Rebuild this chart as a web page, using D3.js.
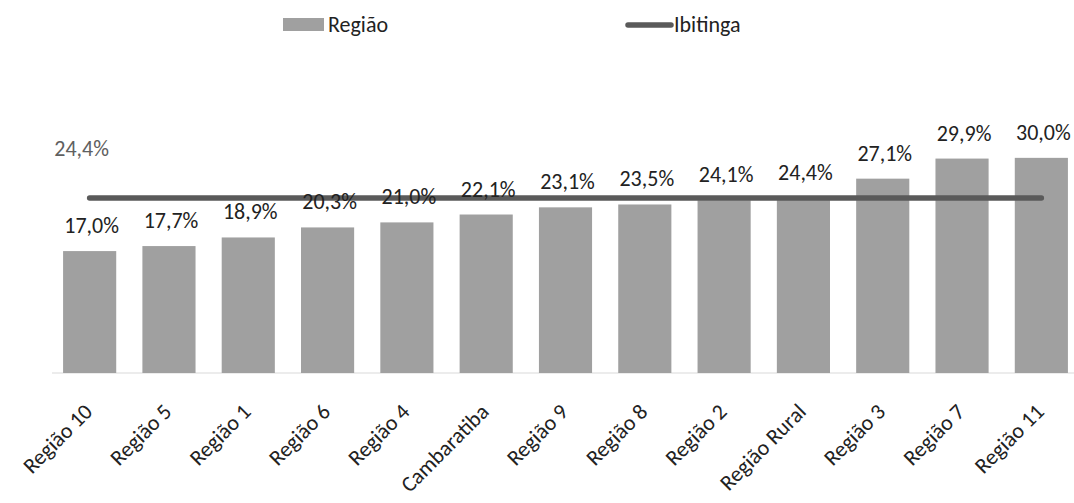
<!DOCTYPE html>
<html>
<head>
<meta charset="utf-8">
<script src="https://cdn.jsdelivr.net/npm/d3@7"></script>
<style>
  body { margin: 0; background: #fff; }
  svg { display: block; font-family: Carlito, Calibri, Lato, "Open Sans", sans-serif; }
</style>
</head>
<body>
<svg id="chart" width="1074" height="503"></svg>
<script>
// Categories, ordered by share
const categories = ["Região 10", "Região 5", "Região 1", "Região 6", "Região 4", "Cambaratiba",
  "Região 9", "Região 8", "Região 2", "Região Rural", "Região 3", "Região 7", "Região 11"];
// Share per region (%)
const regiaoValues = [17.0, 17.7, 18.9, 20.3, 21.0, 22.1, 23.1, 23.5, 24.1, 24.4, 27.1, 29.9, 30.0];
// Municipal reference value (%)
const ibitingaValues = categories.map(() => 24.4);
const seriesNames = ["Região", "Ibitinga"];

const fmt = v => v.toFixed(1).replace(".", ",") + "%";
const fontFamily = "Carlito, Calibri, Lato, 'Open Sans', sans-serif";
const fontSize = 22;

const svg = d3.select("#chart");
const x = d3.scaleBand().domain(categories).range([50, 1081]).paddingInner(0.33).paddingOuter(0.165);
const y = d3.scaleLinear().domain([0, 35]).range([373, 122]);

const barColor = "#a0a0a0";
const lineColor = "#5a5a5a";

// axis baseline
svg.append("line")
  .attr("x1", 52).attr("x2", 1074)
  .attr("y1", y(0)).attr("y2", y(0))
  .attr("stroke", "#d9d9d9").attr("stroke-width", 1);

// bars
svg.append("g").selectAll("rect").data(regiaoValues).join("rect")
  .attr("x", (d, i) => x(categories[i]))
  .attr("y", d => y(d))
  .attr("width", x.bandwidth())
  .attr("height", d => y(0) - y(d))
  .attr("fill", barColor);

// reference line
const line = d3.line()
  .x((d, i) => x(categories[i]) + x.bandwidth() / 2)
  .y(d => y(d));
svg.append("path").datum(ibitingaValues)
  .attr("d", line)
  .attr("fill", "none")
  .attr("stroke", lineColor)
  .attr("stroke-width", 5.5)
  .attr("stroke-linecap", "round");

// bar value labels
svg.append("g").selectAll("text").data(regiaoValues).join("text")
  .attr("x", (d, i) => x(categories[i]) + x.bandwidth() / 2 + 2)
  .attr("y", d => y(d) - 18)
  .attr("text-anchor", "middle")
  .attr("font-size", fontSize)
  .attr("fill", "#222")
  .text(d => fmt(d));

// reference line value label
svg.append("text")
  .attr("x", x(categories[0]) + x.bandwidth() / 2 - 8)
  .attr("y", y(ibitingaValues[0]) - 42)
  .attr("text-anchor", "middle")
  .attr("font-size", fontSize)
  .attr("fill", "#606060")
  .text(fmt(ibitingaValues[0]));

// category axis labels, rotated
const xAxis = d3.axisBottom(x).tickSize(0).tickPadding(0);
const gx = svg.append("g").attr("transform", `translate(0,${y(0)})`).call(xAxis);
gx.select(".domain").remove();
gx.selectAll(".tick text")
  .attr("font-family", fontFamily)
  .attr("font-size", fontSize)
  .attr("fill", "#222")
  .attr("text-anchor", "end")
  .attr("dy", 0)
  .attr("transform", "translate(4,40) rotate(-45)");

// legend
const legend = svg.append("g");
legend.append("rect").attr("x", 283).attr("y", 18).attr("width", 41).attr("height", 13).attr("fill", barColor);
legend.append("text").attr("x", 328).attr("y", 32).attr("font-size", fontSize).attr("fill", "#222").text(seriesNames[0]);
legend.append("line").attr("x1", 628).attr("x2", 671).attr("y1", 25).attr("y2", 25)
  .attr("stroke", lineColor).attr("stroke-width", 5.5).attr("stroke-linecap", "round");
legend.append("text").attr("x", 674).attr("y", 32).attr("font-size", fontSize).attr("fill", "#222").text(seriesNames[1]);
</script>
</body>
</html>
